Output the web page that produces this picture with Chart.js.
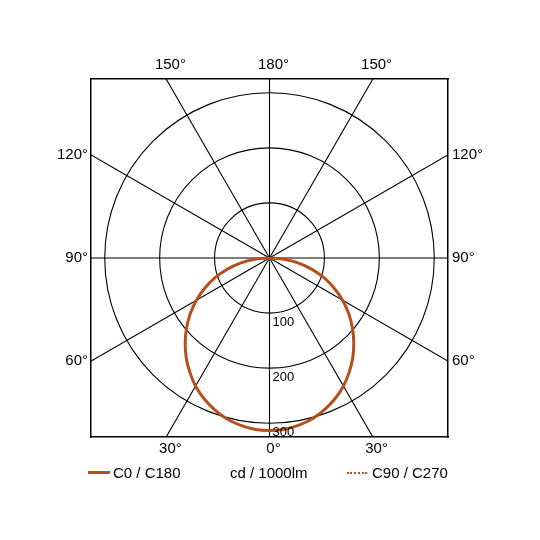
<!DOCTYPE html>
<html>
<head>
<meta charset="utf-8">
<script src="https://cdn.jsdelivr.net/npm/chart.js@4.4.0/dist/chart.umd.min.js"></script>
<style>
  html, body { margin: 0; padding: 0; background: #fff; }
  #wrap { position: relative; width: 540px; height: 540px; }
  #legend { position: absolute; left: 0; top: 463px; width: 540px; height: 20px;
            font: 15px "Liberation Sans", Arial, sans-serif; color: #000; }
  #legend span { position: absolute; top: 0; line-height: 20px; white-space: nowrap; }
  #legend i { position: absolute; height: 0; }
</style>
</head>
<body>
<div id="wrap">
  <canvas id="c" width="540" height="540"></canvas>
  <div id="legend"></div>
</div>
<script>
// gamma angles (deg from nadir) and intensities in cd/1000lm
const gammaDeg = [0, 5, 10, 15, 20, 25, 30, 35, 40, 45, 50, 55, 60, 65, 70, 75, 80, 85, 90];
const c0c180 = [313, 312, 308, 302, 293, 282, 269, 253, 236, 217, 197, 176, 154, 130, 106, 80, 54, 27, 0];
const c90c270 = [313, 312, 308, 302, 293, 282, 269, 253, 236, 217, 197, 176, 154, 130, 106, 80, 54, 27, 0];

const ringValues = [100, 200, 300];
const spokeDeg = [0, 30, 60, 90, 120, 150, 180, 210, 240, 270, 300, 330];
const bottomLabels = ['30°', '0°', '30°'];
const topLabels = ['150°', '180°', '150°'];
const sideLabels = ['60°', '90°', '120°'];
const unitLabel = 'cd / 1000lm';
const seriesNames = ['C0 / C180', 'C90 / C270'];

const RANGE = 325;
const curveColor = '#b4501e';
const fontFamily = '"Liberation Sans", Arial, sans-serif';

const edgeTick = RANGE * Math.tan(Math.PI / 6);
const edgeTicks = [-edgeTick, 0, edgeTick];

// polar -> cartesian, 0° pointing down, C180 on the left, C0 on the right
function polarPoints(vals) {
  const pts = [];
  for (let i = vals.length - 1; i >= 0; i--) {
    const a = gammaDeg[i] * Math.PI / 180;
    pts.push({ x: -vals[i] * Math.sin(a), y: -vals[i] * Math.cos(a) });
  }
  for (let i = 1; i < vals.length; i++) {
    const a = gammaDeg[i] * Math.PI / 180;
    pts.push({ x: vals[i] * Math.sin(a), y: -vals[i] * Math.cos(a) });
  }
  return pts;
}

const polarGrid = {
  id: 'polarGrid',
  beforeDatasetsDraw(chart) {
    const { ctx, chartArea: a, scales: { x, y } } = chart;
    const cx = x.getPixelForValue(0), cy = y.getPixelForValue(0);
    ctx.save();
    ctx.beginPath();
    ctx.rect(a.left, a.top, a.right - a.left, a.bottom - a.top);
    ctx.clip();
    ctx.strokeStyle = '#000';
    ctx.lineWidth = 1.1;
    ringValues.forEach(r => {
      const rx = x.getPixelForValue(r) - cx;
      const ry = cy - y.getPixelForValue(r);
      ctx.beginPath();
      ctx.ellipse(cx, cy, rx, ry, 0, 0, Math.PI * 2);
      ctx.stroke();
    });
    spokeDeg.forEach(d => {
      const t = d * Math.PI / 180;
      ctx.beginPath();
      ctx.moveTo(cx, cy);
      ctx.lineTo(cx + Math.sin(t) * 1000, cy + Math.cos(t) * 1000);
      ctx.stroke();
    });
    ctx.restore();
  },
  afterDatasetsDraw(chart) {
    const { ctx, scales: { x, y } } = chart;
    const cx = x.getPixelForValue(0);
    ctx.save();
    ctx.fillStyle = '#000';
    ctx.font = '13px ' + fontFamily;
    ctx.textAlign = 'left';
    ctx.textBaseline = 'middle';
    ringValues.forEach(r => {
      ctx.fillText(String(r), cx + 3, y.getPixelForValue(-r) + 9);
    });
    ctx.restore();
  }
};

function edgeAxis(position, labels, size, padding, offset) {
  const horizontal = position === 'top' || position === 'bottom';
  return {
    type: 'linear',
    position: position,
    axis: horizontal ? 'x' : 'y',
    min: -RANGE,
    max: RANGE,
    grid: { display: false, drawTicks: false },
    border: { display: true, color: '#000', width: 1.5 },
    afterBuildTicks: s => { s.ticks = edgeTicks.map(v => ({ value: v })); },
    afterFit: s => { if (horizontal) s.height = size; else s.width = size; },
    ticks: {
      autoSkip: false,
      maxRotation: 0,
      padding: padding,
      labelOffset: offset,
      color: '#000',
      font: { family: fontFamily, size: 15 },
      callback: (v, i) => labels[i]
    }
  };
}

new Chart(document.getElementById('c'), {
  type: 'scatter',
  data: {
    datasets: [
      {
        label: seriesNames[0],
        data: polarPoints(c0c180),
        showLine: true,
        tension: 0.3,
        borderColor: curveColor,
        borderWidth: 3,
        pointRadius: 0,
        fill: false
      },
      {
        label: seriesNames[1],
        data: polarPoints(c90c270),
        showLine: true,
        tension: 0.3,
        borderColor: curveColor,
        borderWidth: 1.5,
        borderDash: [1, 2],
        pointRadius: 0,
        fill: false
      }
    ]
  },
  options: {
    responsive: false,
    animation: false,
    layout: { padding: 0 },
    plugins: { legend: { display: false }, tooltip: { enabled: false } },
    scales: {
      x: edgeAxis('bottom', bottomLabels, 103, 3, 4),
      x2: edgeAxis('top', topLabels, 79, 5, 4),
      y: edgeAxis('left', sideLabels, 91, 3, 0),
      y2: edgeAxis('right', sideLabels, 92, 4, 0)
    }
  },
  plugins: [polarGrid]
});

// legend row
const legend = document.getElementById('legend');
legend.innerHTML =
  '<i style="left:88px;width:22px;top:8px;border-top:3px solid ' + curveColor + '"></i>' +
  '<span style="left:113px">' + seriesNames[0] + '</span>' +
  '<span style="left:230px">' + unitLabel + '</span>' +
  '<i style="left:347px;width:20px;top:9px;border-top:2px dotted ' + curveColor + '"></i>' +
  '<span style="left:372px">' + seriesNames[1] + '</span>';
</script>
</body>
</html>
